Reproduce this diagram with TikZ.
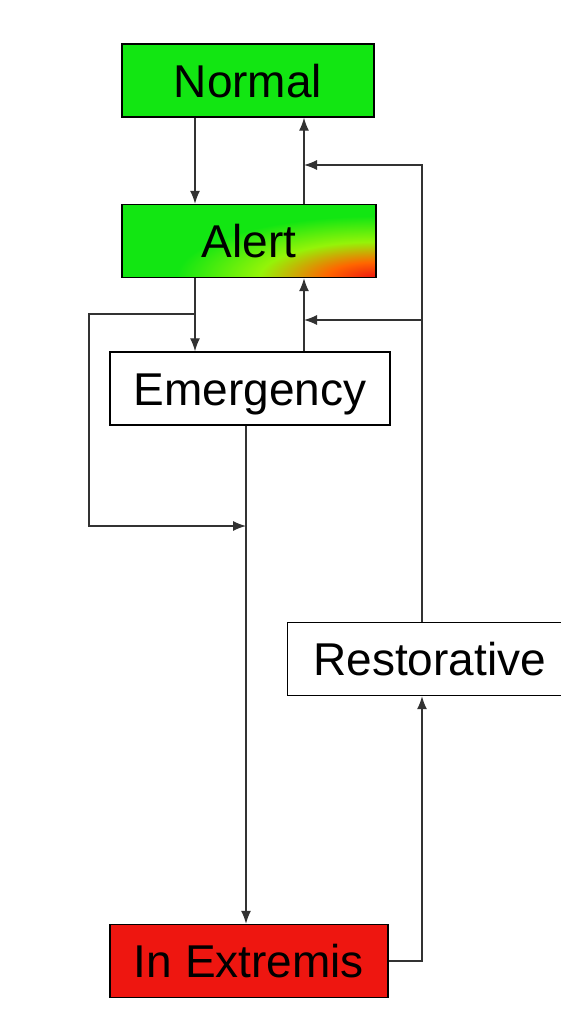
\documentclass[tikz,border=0pt]{standalone}
\usepackage{fontspec}
\setmainfont{Liberation Sans}
\usetikzlibrary{arrows.meta}
\definecolor{stategreen}{RGB}{18,230,18}
\definecolor{statered}{RGB}{238,22,16}
\definecolor{wiregray}{RGB}{50,50,50}
\pgfdeclareradialshading{alertglow}{\pgfpoint{0bp}{0bp}}{color(0bp)=(statered); color(2.4bp)=(orange!80!red); color(5.6bp)=(yellow!55!stategreen); color(9.6bp)=(stategreen); color(50bp)=(stategreen)}
\tikzstyle{state} = [rectangle, draw=black, line width=1.4pt, inner sep=0pt, minimum height=73pt, text height=33pt, text depth=0pt, font=\fontsize{46}{50}\selectfont]
\tikzstyle{wire} = [draw=wiregray, line width=1.3pt]
\tikzstyle{arr} = [wire, -{Latex[length=13pt,width=10pt]}]

\begin{document}
\begin{tikzpicture}[x=1pt,y=-1pt]
			\useasboundingbox (0,0) rectangle (560,1017);
			\fill[white] (0,0) rectangle (560,1017);
			\node[state, fill=stategreen, minimum width=252pt] (normal) at (248,80.5) {Normal};
			\node[state, fill=stategreen, minimum width=254pt,
				path picture={\shade[shading=alertglow] (path picture bounding box.south east) ellipse [x radius=520pt, y radius=160pt];}]
				(alert) at (249,241) {Alert};
			\node[state, fill=white, minimum width=280pt] (emergency) at (250,388.5) {Emergency};
			\node[state, fill=white, minimum width=284pt, anchor=west] (restorative) at (287,659) {Restorative};
			\node[state, fill=statered, minimum width=278pt] (extremis) at (249,961) {In Extremis};
			% columns and taps of the wires
			\coordinate (cA) at (195,0);
			\coordinate (cB) at (304,0);
			\coordinate (cC) at (246,0);
			\coordinate (cL) at (89,0);
			\coordinate (cR) at (422,0);
			\coordinate (tapA) at (0,165);
			\coordinate (tapB) at (0,320);
			\coordinate (tapC) at (0,314);
			\coordinate (tapD) at (0,526);
			\draw[arr] (normal.south -| cA) -- (alert.north -| cA);
			\draw[arr] (alert.north -| cB) -- (normal.south -| cB);
			\draw[arr] (alert.south -| cA) -- (emergency.north -| cA);
			\draw[arr] (emergency.north -| cB) -- (alert.south -| cB);
			\draw[arr] (emergency.south -| cC) -- (extremis.north -| cC);
			\draw[arr] (extremis.east) -| (restorative.south -| cR);
			\draw[arr] (restorative.north -| cR) |- (cB |- tapA);
			\draw[arr] (cR |- tapB) -- (cB |- tapB);
			\draw[arr] (cA |- tapC) -| (cL |- tapD) -- (cC |- tapD);
		\end{tikzpicture}
\end{document}
